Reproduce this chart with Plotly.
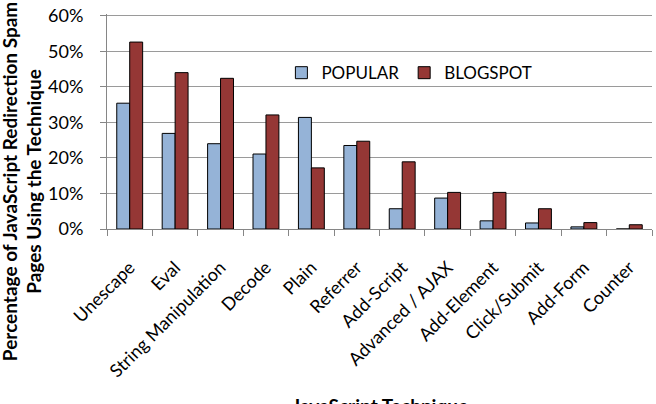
import plotly.graph_objects as go

categories = ["Unescape", "Eval", "String Manipulation", "Decode", "Plain", "Referrer",
              "Add-Script", "Advanced / AJAX", "Add-Element", "Click/Submit", "Add-Form", "Counter"]
popular = [35.4, 26.9, 24.0, 21.1, 31.4, 23.5, 5.7, 8.7, 2.3, 1.7, 0.6, 0.0]
blogspot = [52.6, 44.0, 42.4, 32.1, 17.2, 24.7, 18.9, 10.3, 10.3, 5.7, 1.8, 1.2]
y_ticks = [0, 10, 20, 30, 40, 50, 60]
y_tick_labels = [f"{v}%" for v in y_ticks]

FONT = "Lato"

fig = go.Figure()
fig.add_trace(go.Bar(x=categories, y=popular, name="POPULAR",
                     marker=dict(color="#95B3D7", line=dict(color="#000000", width=1))))
fig.add_trace(go.Bar(x=categories, y=blogspot, name="BLOGSPOT",
                     marker=dict(color="#953735", line=dict(color="#000000", width=1))))

fig.update_layout(
    width=656, height=404,
    margin=dict(l=107, r=4, t=4, b=175),
    paper_bgcolor="white", plot_bgcolor="white",
    barmode="group", bargap=0.43, bargroupgap=0,
    font=dict(family=FONT, size=16, color="#000000"),
    legend=dict(orientation="h", x=0.32, y=0.725, xanchor="left", yanchor="middle",
                font=dict(size=17), bgcolor="rgba(0,0,0,0)", itemwidth=30),
    showlegend=True,
)
fig.update_xaxes(
    tickangle=-45, tickson="boundaries", ticks="outside", ticklen=6,
    tickcolor="#868686", showline=True, linecolor="#868686", linewidth=1,
    tickfont=dict(size=18), showgrid=False, ticklabelstandoff=20,
)
fig.update_yaxes(
    range=[0, 60.5], tickvals=y_ticks, ticktext=y_tick_labels,
    ticks="outside", ticklen=6, tickcolor="#868686",
    showline=True, linecolor="#868686", linewidth=1,
    showgrid=True, gridcolor="#9A9A9A", gridwidth=1,
    tickfont=dict(size=18), zeroline=False, ticklabelstandoff=13,
    ticklabeloverflow="allow",
)
fig.add_annotation(
    text="<b>Percentage of JavaScript Redirection Spam<br>Pages Using the Technique</b>",
    textangle=-90, xref="paper", yref="paper", x=-0.157, y=0.22,
    xanchor="center", yanchor="middle", showarrow=False, font=dict(size=19),
)
fig.add_annotation(
    text="<b>JavaScript Technique</b>", xref="paper", yref="paper",
    x=0.5, y=-0.76, xanchor="center", yanchor="top", showarrow=False,
    font=dict(size=19),
)
fig.write_html("out.html")
